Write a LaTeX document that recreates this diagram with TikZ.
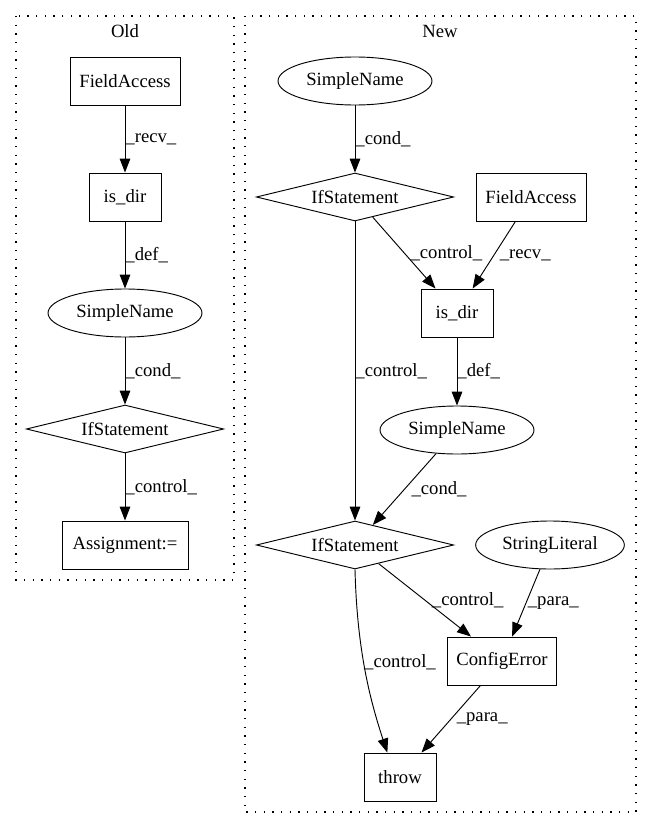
\documentclass[tikz,border=0pt]{standalone}
\usepackage{fontspec}
\setmainfont{Liberation Serif}
\usetikzlibrary{arrows.meta,shapes.geometric}

\begin{document}
\begin{tikzpicture}[x=0.75pt, y=-0.75pt,
  every node/.style={font=\fontsize{14}{16}\selectfont},
  box/.style={draw, line width=0.7pt, minimum height=36pt, inner sep=0pt},
  oval/.style={draw, ellipse, line width=0.7pt, minimum height=36pt, inner sep=0pt},
  cnd/.style={draw, diamond, aspect=4.1, line width=0.7pt, minimum width=148pt, minimum height=36pt, inner sep=0pt},
  edge/.style={-{Triangle[length=10.5pt, width=8pt]}, line width=0.7pt},
  lbl/.style={inner sep=0pt, anchor=west},
  cluster/.style={dash pattern=on 1pt off 5.5pt, line width=0.9pt}]
  \useasboundingbox (0,0) rectangle (652,828);
  \draw[cluster] (16,16) rectangle (234,580);
  \draw[cluster] (245,16) rectangle (636,812);
  \node (oldlabel) at (125,31) {Old};
  \node (newlabel) at (440,31) {New};

  \node[box, minimum width=82.5pt] (oldfield) at (125,81) {FieldAccess};
  \node[box, minimum width=54pt] (oldisdir) at (125,197) {is\_dir};
  \node[oval, minimum width=115.5pt] (oldname) at (125,313) {SimpleName};
  \node[cnd] (oldif) at (125,429) {IfStatement};
  \node[box, minimum width=94.5pt] (oldassign) at (125,545) {Assignment:=};

  \node[oval, minimum width=115.5pt] (newname) at (355,81) {SimpleName};
  \node[cnd] (newif) at (355,197) {IfStatement};
  \node[box, minimum width=82.5pt] (newfield) at (531,197) {FieldAccess};
  \node[box, minimum width=54pt] (newisdir) at (457,313) {is\_dir};
  \node[oval, minimum width=115.5pt] (newname2) at (457,430) {SimpleName};
  \node[cnd] (newif2) at (355,545) {IfStatement};
  \node[oval, minimum width=111.5pt] (strlit) at (550,545) {StringLiteral};
  \node[box, minimum width=82pt] (cfgerr) at (502,661) {ConfigError};
  \node[box, minimum width=54pt] (throw) at (400,777) {throw};

  \draw[edge] (oldfield) -- node[lbl] {\_recv\_} (oldisdir);
  \draw[edge] (oldisdir) -- node[lbl] {\_def\_} (oldname);
  \draw[edge] (oldname) -- node[lbl] {\_cond\_} (oldif);
  \draw[edge] (oldif) -- node[lbl] {\_control\_} (oldassign);

  \draw[edge] (newname) -- node[lbl] {\_cond\_} (newif);
  \draw[edge] (newif) -- node[lbl, xshift=4.5pt] {\_control\_} (newisdir);
  \draw[edge] (newfield) -- node[lbl, xshift=4pt] {\_recv\_} (newisdir);
  \draw[edge] (newif) -- node[lbl] {\_control\_} (newif2);
  \draw[edge] (newisdir) -- node[lbl] {\_def\_} (newname2);
  \draw[edge] (newname2) -- node[lbl, xshift=5pt] {\_cond\_} (newif2);
  \draw[edge] (newif2) -- node[lbl, xshift=5pt] {\_control\_} (cfgerr);
  \draw[edge] (strlit) -- node[lbl, xshift=1pt] {\_para\_} (cfgerr);
  \draw[edge] (newif2.south) .. controls (357,650) and (370,700) .. node[lbl, pos=0.45] {\_control\_} ([xshift=-9.5pt]throw.north);
  \draw[edge] (cfgerr) -- node[lbl, xshift=4pt] {\_para\_} (throw);
\end{tikzpicture}
\end{document}
